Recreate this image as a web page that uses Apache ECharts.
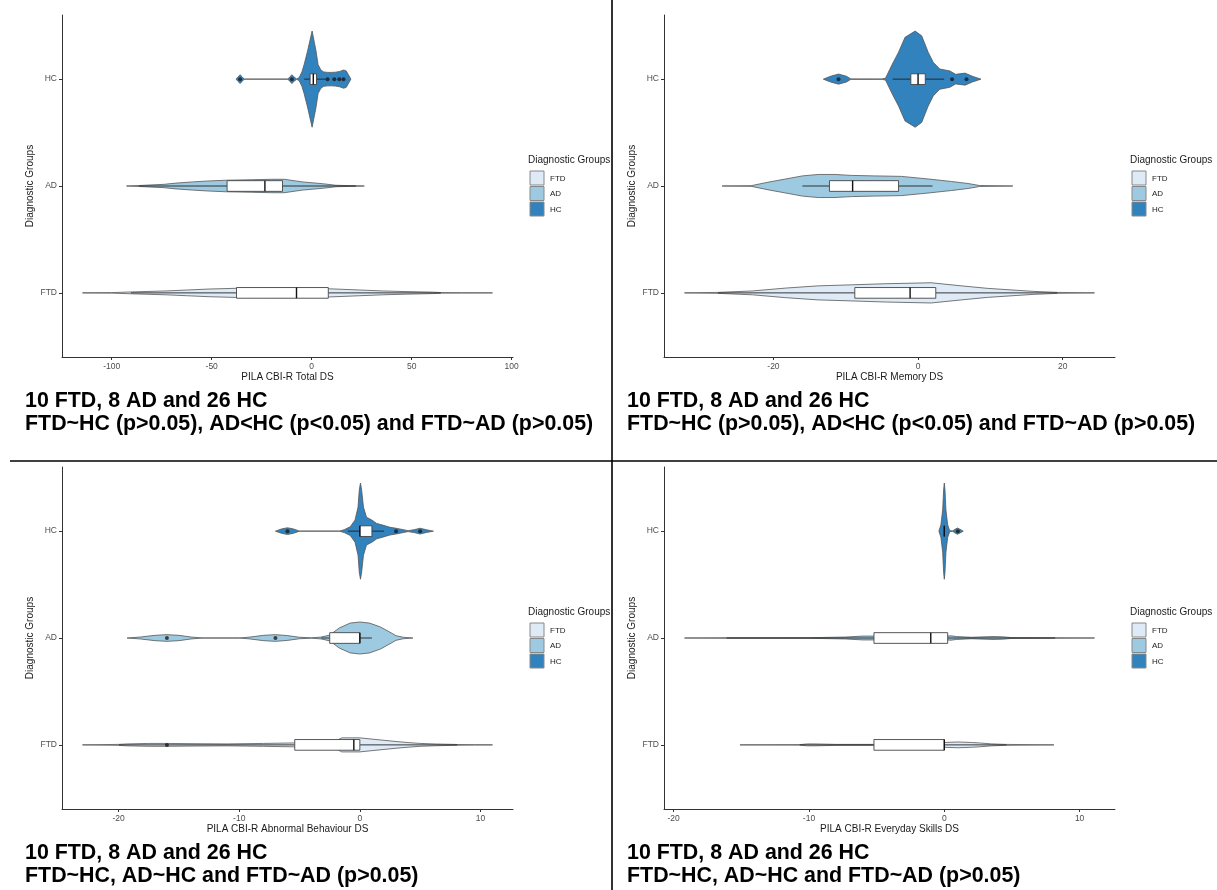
<!DOCTYPE html>
<html>
<head>
<meta charset="utf-8">
<script src="https://cdn.jsdelivr.net/npm/echarts@6/dist/echarts.min.js"></script>
<style>html,body{margin:0;padding:0;background:#fff}#c{width:1217px;height:890px}</style>
</head>
<body>
<div id="c"></div>
<script>
// ---------- DATA ----------
const groups = ['FTD', 'AD', 'HC'];
const xTitles = ['PILA CBI-R Total DS', 'PILA CBI-R Memory DS', 'PILA CBI-R Abnormal Behaviour DS', 'PILA CBI-R Everyday Skills DS'];
const xTicksTotal = [-100, -50, 0, 50, 100];
const xTicksMemory = [-20, 0, 20];
const xTicksAbnormal = [-20, -10, 0, 10];
const xTicksSkills = [-20, -10, 0, 10];
const captionCounts = ['10 FTD, 8 AD and 26 HC', '10 FTD, 8 AD and 26 HC', '10 FTD, 8 AD and 26 HC', '10 FTD, 8 AD and 26 HC'];
const captionTests = ['FTD~HC (p>0.05), AD<HC (p<0.05) and FTD~AD (p>0.05)', 'FTD~HC (p>0.05), AD<HC (p<0.05) and FTD~AD (p>0.05)', 'FTD~HC, AD~HC and FTD~AD (p>0.05)', 'FTD~HC, AD~HC and FTD~AD (p>0.05)'];

// violin profiles: [score, relative density]
const totalFTD = [[-114.6,0],[-100,0.005],[-89.6,0.02],[-72.9,0.04],[-62.1,0.06],[-51.3,0.08],[-37.9,0.095],[-14.6,0.1],[8.8,0.085],[23.8,0.06],[35.4,0.04],[47.1,0.027],[60.4,0.015],[64.6,0.006],[75,0.003],[90.4,0]];
const totalAD = [[-92.6,0],[-86.3,0.01],[-73.8,0.035],[-67.9,0.06],[-59.6,0.085],[-51.3,0.105],[-42.9,0.12],[-30,0.13],[-20,0.14],[-13.8,0.14],[-4.6,0.085],[5.4,0.048],[12.1,0.015],[22.1,0.004],[26.3,0]];
const totalHC = [[-37.8,0],[-36.8,0.05],[-35.8,0.09],[-34.8,0.05],[-33.8,0],[-11.9,0],[-10.9,0.05],[-9.9,0.09],[-8.9,0.05],[-7.6,0.005],[-6.3,0.03],[-4.9,0.15],[-3.8,0.3],[-2.1,0.58],[0.2,1],[2.1,0.6],[3.2,0.3],[4.6,0.19],[6,0.15],[8,0.14],[10,0.14],[12,0.145],[14,0.16],[16,0.19],[17.3,0.17],[18.5,0.08],[19.6,0]];

const memoryFTD = [[-32.3,0],[-27.7,0.01],[-22.9,0.04],[-18.3,0.1],[-13.8,0.146],[-9.2,0.167],[-4.6,0.19],[1.8,0.21],[6,0.146],[9.6,0.094],[13.8,0.052],[16,0.031],[19.3,0.01],[24.4,0]];
const memoryAD = [[-27.1,0],[-23.1,0.006],[-20.6,0.083],[-18.3,0.146],[-16,0.21],[-13.8,0.24],[-11.5,0.24],[-9.2,0.22],[-6,0.21],[-2.3,0.2],[1.4,0.146],[4.6,0.094],[6.9,0.052],[8.5,0.01],[13.1,0]];
const memoryHC = [[-13.1,0],[-12.1,0.06],[-11,0.105],[-9.9,0.06],[-9.3,0.005],[-5,0.002],[-4.5,0.02],[-3.6,0.3],[-2.7,0.56],[-1.8,0.87],[-0.4,1],[0.5,0.9],[1.4,0.56],[2.1,0.35],[3,0.21],[4.4,0.17],[5.2,0.1],[6.5,0.125],[7.5,0.06],[8.7,0]];

const abnormalFTD = [[-23,0],[-20,0.01],[-19.3,0.02],[-17.5,0.03],[-16,0.03],[-14,0.025],[-11,0.02],[-8,0.03],[-5.5,0.04],[-3,0.05],[-2,0.08],[-1.5,0.146],[-0.5,0.146],[0,0.146],[1,0.12],[2,0.095],[3,0.07],[4,0.048],[5,0.03],[6.3,0.018],[8.1,0.008],[9.5,0.003],[11,0]];
const abnormalAD = [[-19.3,0],[-18.2,0.02],[-17,0.055],[-16,0.07],[-15,0.055],[-14,0.02],[-13,0],[-10,0],[-9.1,0.02],[-8,0.055],[-7,0.07],[-6,0.05],[-5,0.015],[-4,0.003],[-3.2,0.02],[-2.5,0.06],[-1.7,0.21],[-0.8,0.31],[0,0.333],[0.8,0.31],[1.7,0.23],[2.5,0.12],[3,0.048],[3.6,0.015],[4.4,0]];
const abnormalHC = [[-7,0],[-6.5,0.045],[-6,0.07],[-5.5,0.045],[-5,0],[-1.7,0],[-1.3,0.03],[-0.8,0.09],[-0.4,0.23],[-0.15,0.5],[-0.05,0.85],[0.05,1],[0.15,0.85],[0.3,0.5],[0.55,0.29],[1,0.23],[1.4,0.16],[1.9,0.125],[2.5,0.08],[3,0.06],[3.6,0.03],[4,0.01],[4.5,0.03],[5,0.06],[5.5,0.03],[6.1,0]];

const skillsFTD = [[-15.1,0],[-10.7,0.005],[-10.1,0.02],[-9.6,0.02],[-8,0.01],[-5.3,0.01],[-2,0.02],[0,0.05],[1,0.06],[2,0.05],[2.6,0.04],[3.5,0.02],[4.5,0.01],[8.1,0]];
const skillsAD = [[-19.2,0],[-16.1,0.004],[-10,0.006],[-7.3,0.02],[-6,0.04],[-5.3,0.04],[-3,0.05],[-1,0.05],[0.2,0.04],[0.5,0.045],[0.9,0.03],[2,0.015],[3.6,0.03],[4.3,0.025],[5,0.008],[8.2,0.004],[11.1,0]];
const skillsHC = [[-0.4,0],[-0.25,0.13],[-0.12,0.44],[-0.05,0.86],[0,1],[0.05,0.86],[0.12,0.44],[0.25,0.13],[0.4,0.01],[0.63,0.005],[0.8,0.04],[0.97,0.065],[1.15,0.04],[1.4,0]];

// box stats: [lower whisker, Q1, median, Q3, upper whisker] for FTD, AD, HC
const totalBox = [[-90.4,-37.6,-7.6,8.3,64.6],[-86.3,-42.3,-23.4,-14.6,22.1],[-3.8,-0.8,0.8,2.4,6.8]];
const memoryBox = [[-27.7,-8.75,-1.1,2.45,19.3],[-16,-12.25,-9.05,-2.7,2],[-3.5,-1,0,1,3.6]];
const abnormalBox = [[-20,-5.4,-0.5,0,8.1],[-3.2,-2.5,0,0,1],[-1,0,0,1,2]];
const skillsBox = [[-10.7,-5.2,0,0,4.6],[-16.1,-5.2,-1,0.25,8.2],[0,0,0,0,0]];

// outlier points: [score, group index]
const totalOut = [[-35.8,2],[-9.9,2],[7.9,2],[11.3,2],[13.8,2],[15.9,2]];
const memoryOut = [[-11,2],[4.7,2],[6.7,2]];
const abnormalOut = [[-16,0],[-16,1],[-7,1],[-6,2],[3,2],[5,2]];
const skillsOut = [[1,2]];

// ---------- STYLE / LAYOUT ----------
const fillColors = ['#deebf7', '#9ecae1', '#3182bd'];
const FONT = '"Liberation Sans", Arial, sans-serif';
const HALF = 0.45, BOXW = 0.05;
const gridLeft = [62, 664, 62, 664];
const gridTop = [15, 15, 467, 467];
const GW = 451, GH = 342;

const panels = [
  {violins: [totalFTD, totalAD, totalHC], box: totalBox, out: totalOut, ticks: xTicksTotal},
  {violins: [memoryFTD, memoryAD, memoryHC], box: memoryBox, out: memoryOut, ticks: xTicksMemory},
  {violins: [abnormalFTD, abnormalAD, abnormalHC], box: abnormalBox, out: abnormalOut, ticks: xTicksAbnormal},
  {violins: [skillsFTD, skillsAD, skillsHC], box: skillsBox, out: skillsOut, ticks: xTicksSkills}
];

const grid = [], xAxis = [], yAxis = [], series = [], graphic = [];

panels.forEach((P, p) => {
  let lo = Infinity, hi = -Infinity;
  P.violins.forEach(v => v.forEach(([x]) => { lo = Math.min(lo, x); hi = Math.max(hi, x); }));
  const pad = (hi - lo) * 0.05;
  grid.push({left: gridLeft[p], top: gridTop[p], width: GW, height: GH, containLabel: false});
  xAxis.push({
    gridIndex: p, type: 'value', min: lo - pad, max: hi + pad,
    axisLine: {show: true, onZero: false, lineStyle: {color: '#333', width: 1}},
    axisTick: {show: true, length: 3, customValues: P.ticks, lineStyle: {color: '#333'}},
    axisLabel: {customValues: P.ticks, color: '#4d4d4d', fontSize: 8.5, margin: 5, fontFamily: FONT},
    splitLine: {show: false},
    name: xTitles[p], nameLocation: 'middle', nameGap: 15,
    nameTextStyle: {color: '#1a1a1a', fontSize: 10, fontFamily: FONT}
  });
  yAxis.push({
    gridIndex: p, type: 'value', min: 0.4, max: 3.6,
    axisLine: {show: true, onZero: false, lineStyle: {color: '#333', width: 1}},
    axisTick: {show: true, length: 3, customValues: [1, 2, 3], lineStyle: {color: '#333'}},
    axisLabel: {customValues: [1, 2, 3], color: '#4d4d4d', fontSize: 8.5, margin: 5, fontFamily: FONT,
      formatter: v => groups[Math.round(v) - 1]},
    splitLine: {show: false},
    name: 'Diagnostic Groups', nameLocation: 'middle', nameGap: 27, nameRotate: 90, nameMoveOverlap: false,
    nameTextStyle: {color: '#1a1a1a', fontSize: 10, fontFamily: FONT}
  });
  // violins
  series.push({
    type: 'custom', xAxisIndex: p, yAxisIndex: p, silent: true, z: 2,
    data: P.violins.map((v, g) => [v[0][0], g + 1]),
    renderItem: (params, api) => {
      const g = params.dataIndex, prof = P.violins[g], yc = g + 1;
      const pts = [];
      prof.forEach(([x, d]) => pts.push(api.coord([x, yc + d * HALF])));
      for (let i = prof.length - 1; i >= 0; i--) pts.push(api.coord([prof[i][0], yc - prof[i][1] * HALF]));
      return {type: 'polygon', shape: {points: pts},
        style: {fill: fillColors[g], stroke: '#555', lineWidth: 0.8}};
    }
  });
  // boxes
  series.push({
    type: 'custom', xAxisIndex: p, yAxisIndex: p, silent: true, z: 3,
    data: P.box.map((b, g) => [b[2], g + 1]),
    renderItem: (params, api) => {
      const g = params.dataIndex, [wl, q1, md, q3, wh] = P.box[g], yc = g + 1;
      const c = v => api.coord([v, yc]);
      const a = api.coord([q1, yc + BOXW]), b = api.coord([q3, yc - BOXW]);
      const m1 = api.coord([md, yc + BOXW]), m2 = api.coord([md, yc - BOXW]);
      return {type: 'group', children: [
        {type: 'line', shape: {x1: c(wl)[0], y1: c(wl)[1], x2: c(q1)[0], y2: c(q1)[1]}, style: {stroke: '#222', lineWidth: 0.9}},
        {type: 'line', shape: {x1: c(q3)[0], y1: c(q3)[1], x2: c(wh)[0], y2: c(wh)[1]}, style: {stroke: '#222', lineWidth: 0.9}},
        {type: 'rect', shape: {x: a[0], y: a[1], width: b[0] - a[0], height: b[1] - a[1]}, style: {fill: '#fff', stroke: '#444', lineWidth: 0.9}},
        {type: 'line', shape: {x1: m1[0], y1: m1[1], x2: m2[0], y2: m2[1]}, style: {stroke: '#111', lineWidth: 1.4}}
      ]};
    }
  });
  // outliers
  series.push({
    type: 'scatter', xAxisIndex: p, yAxisIndex: p, silent: true, z: 4,
    symbol: 'circle', symbolSize: 4,
    itemStyle: {color: '#1a1a1a'},
    data: P.out.map(([v, g]) => [v, g + 1])
  });

  // legend
  const L = gridLeft[p], T = gridTop[p];
  graphic.push({type: 'text', x: L + 466, y: T + 145,
    style: {text: 'Diagnostic Groups', font: '10px ' + FONT, fill: '#1a1a1a', textAlign: 'left', textVerticalAlign: 'middle', align: 'left', verticalAlign: 'middle'}});
  groups.forEach((gname, i) => {
    const ky = T + 156 + i * 15.5;
    graphic.push({type: 'rect', shape: {x: L + 468, y: ky, width: 14, height: 14},
      style: {fill: fillColors[i], stroke: '#888', lineWidth: 1}});
    graphic.push({type: 'text', x: L + 488, y: ky + 7.5,
      style: {text: gname, font: '8px ' + FONT, fill: '#1a1a1a', textAlign: 'left', textVerticalAlign: 'middle', align: 'left', verticalAlign: 'middle'}});
  });
  // captions
  graphic.push({type: 'text', x: L - 37, y: T + 386,
    style: {text: captionCounts[p], font: 'bold 21.4px ' + FONT, fill: '#000', textAlign: 'left', textVerticalAlign: 'middle', align: 'left', verticalAlign: 'middle'}});
  graphic.push({type: 'text', x: L - 37, y: T + 409,
    style: {text: captionTests[p], font: 'bold 21.4px ' + FONT, fill: '#000', textAlign: 'left', textVerticalAlign: 'middle', align: 'left', verticalAlign: 'middle'}});
});

// divider lines
graphic.push({type: 'line', shape: {x1: 612, y1: 0, x2: 612, y2: 890}, style: {stroke: '#000', lineWidth: 1.6}, z: 100});
graphic.push({type: 'line', shape: {x1: 10, y1: 461, x2: 1217, y2: 461}, style: {stroke: '#000', lineWidth: 1.4}, z: 100});

const chart = echarts.init(document.getElementById('c'), null, {renderer: 'canvas'});
chart.setOption({
  animation: false,
  backgroundColor: '#fff',
  grid, xAxis, yAxis, series, graphic
});
</script>
</body>
</html>
